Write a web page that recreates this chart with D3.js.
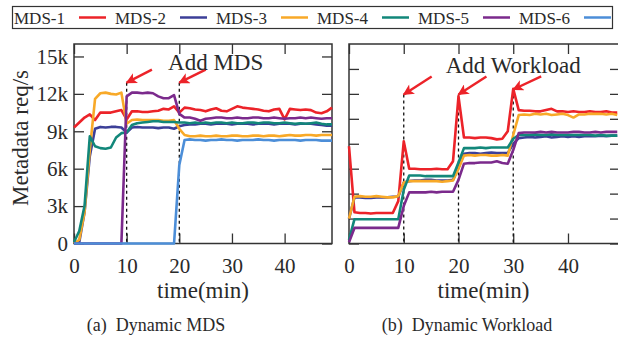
<!DOCTYPE html>
<html>
<head>
<meta charset="utf-8">
<script src="https://cdn.jsdelivr.net/npm/d3@7/dist/d3.min.js"></script>
<style>
  body { margin: 0; background: #fff; }
  text { font-family: "Liberation Serif", "Times New Roman", serif; fill: #2a2a2a; }
</style>
</head>
<body>
<div id="chart"></div>
<script>
// Width and height
var chart_width  = 618;
var chart_height = 341;

// one sample per minute, values in k req/s
var minutes = d3.range(0, 50);
var names   = ["MDS-1", "MDS-2", "MDS-3", "MDS-4", "MDS-5", "MDS-6"];
var colors  = ["#ec2329", "#3c3f98", "#f8a928", "#12877a", "#7b2a8c", "#4c8ed8"];

// (a) Dynamic MDS
var addMds1 = [9.3,9.7,10.1,10.35,9.9,10.5,10.5,10.5,10.6,10.7,
               9.95,10.6,10.6,10.55,10.55,10.6,10.65,10.8,10.75,11.0,
               10.5,10.9,10.85,10.75,10.7,10.6,10.75,10.85,10.65,10.6,
               10.8,11.0,10.9,10.85,10.8,10.75,10.65,10.6,10.75,10.8,
               9.95,10.8,10.75,10.7,10.75,10.7,10.5,10.45,10.6,10.9];
var addMds2 = [0,0.1,2.5,7.0,9.2,9.35,9.3,9.35,9.35,9.3,
               8.9,9.3,9.35,9.3,9.3,9.3,9.25,9.3,9.3,9.2,
               9.4,9.5,9.55,9.55,9.6,9.6,9.55,9.6,9.6,9.6,
               9.55,9.6,9.6,9.6,9.55,9.6,9.6,9.6,9.55,9.6,
               9.6,9.6,9.55,9.6,9.6,9.6,9.55,9.5,9.45,9.45];
var addMds3 = [0,0.3,2.5,7.5,11.6,12.05,12.1,12.0,11.95,12.1,
               9.6,9.9,9.95,9.9,9.9,9.9,9.9,9.85,9.85,9.9,
               9.2,8.7,8.6,8.6,8.65,8.6,8.6,8.65,8.6,8.6,
               8.65,8.65,8.6,8.6,8.65,8.65,8.6,8.65,8.65,8.6,
               8.65,8.7,8.65,8.65,8.7,8.7,8.65,8.7,8.7,8.7];
var addMds4 = [0.1,1.0,3.0,8.6,7.8,7.65,7.6,7.7,8.5,8.85,
               8.9,9.5,9.65,9.7,9.75,9.8,9.8,9.75,9.75,9.75,
               9.7,9.7,9.65,9.7,9.65,9.7,9.65,9.7,9.7,9.65,
               9.7,9.65,9.65,9.7,9.7,9.65,9.7,9.7,9.65,9.65,
               9.7,9.65,9.6,9.65,9.6,9.65,9.7,9.6,9.55,9.55];
var addMds5 = [0,0,0,0,0,0,0,0,0,0,
               11.8,12.1,12.1,12.05,12.1,12.05,11.8,11.65,11.65,11.9,
               10.4,10.1,10.1,10.0,9.85,10.0,10.05,10.1,10.1,10.05,
               10.05,10.1,10.05,10.05,10.1,10.1,10.05,10.05,10.1,10.05,
               10.0,10.05,10.05,10.1,10.05,10.1,10.05,10.0,10.05,10.05];
var addMds6 = [0,0,0,0,0,0,0,0,0,0,
               0,0,0,0,0,0,0,0,0,0,
               6.3,8.3,8.35,8.3,8.3,8.25,8.3,8.3,8.35,8.3,
               8.3,8.25,8.3,8.3,8.3,8.35,8.3,8.3,8.25,8.3,
               8.3,8.3,8.3,8.25,8.3,8.3,8.3,8.25,8.25,8.25];

// (b) Dynamic Workload
var loadMds1 = [7.8,2.5,2.45,2.45,2.4,2.45,2.45,2.45,2.45,3.4,
                8.2,6.0,6.0,5.95,5.95,5.95,6.0,5.95,5.95,6.6,
                11.8,8.5,8.5,8.45,8.5,8.5,8.45,8.35,8.4,9.0,
                12.4,10.7,10.65,10.65,10.6,10.6,10.7,10.8,10.6,10.6,
                10.55,10.6,10.55,10.55,10.6,10.55,10.55,10.6,10.5,10.5];
var loadMds2 = [2.0,3.7,3.7,3.65,3.65,3.7,3.7,3.7,3.75,3.75,
                4.9,5.0,5.05,5.05,5.1,5.1,5.05,5.05,5.05,5.1,
                6.1,7.2,7.25,7.25,7.2,7.25,7.3,7.25,7.25,7.25,
                8.0,8.45,8.5,8.55,8.5,8.55,8.6,8.5,8.55,8.6,
                8.55,8.6,8.55,8.6,8.6,8.6,8.65,8.6,8.65,8.65];
var loadMds3 = [2.0,3.75,3.8,3.75,3.75,3.8,3.75,3.7,3.7,3.8,
                4.9,5.0,5.0,5.0,5.0,5.0,5.0,4.95,5.0,5.05,
                6.0,7.05,7.1,7.05,7.1,7.1,7.05,7.05,7.1,7.05,
                8.7,10.3,10.35,10.3,10.4,10.35,10.4,10.3,10.35,10.4,
                10.3,10.1,10.35,10.35,10.4,10.4,10.4,10.35,10.4,10.3];
var loadMds4 = [0.3,1.95,1.95,1.95,1.95,1.95,1.95,1.95,1.95,1.95,
                4.3,5.45,5.45,5.45,5.4,5.4,5.4,5.4,5.4,5.4,
                6.5,7.65,7.65,7.65,7.7,7.65,7.7,7.7,7.7,7.7,
                8.4,8.7,8.7,8.7,8.75,8.7,8.7,8.75,8.7,8.7,
                8.7,8.7,8.7,8.7,8.7,8.65,8.7,8.65,8.65,8.65];
var loadMds5 = [0.1,1.25,1.25,1.25,1.25,1.25,1.25,1.25,1.25,1.25,
                3.0,4.1,4.1,4.1,4.1,4.15,4.1,4.15,4.15,4.15,
                5.1,6.4,6.45,6.45,6.5,6.5,6.5,6.6,6.45,6.4,
                7.5,8.85,8.9,8.9,8.9,8.95,8.9,8.95,8.9,8.9,
                8.9,8.95,8.95,8.9,8.9,8.95,8.9,8.95,8.95,8.95];

// ticks
var xTicks      = [0, 10, 20, 30, 40];
var yTicksA     = [0, 3, 6, 9, 12, 15];
var yTicksB     = [0, 2, 4, 6, 8, 10, 12, 14];

// annotations: dashed marker lines [minute, top value], arrows [tailX, tailY, tipX, tipY]
var markersA = [[10, 12.9], [20, 12.9]];
var arrowsA  = [[14.8, 13.95, 10, 12.9], [25, 13.95, 20, 12.9]];
var markersB = [[10, 11.95], [20, 11.95], [30, 12.35]];
var arrowsB  = [[15.1, 13.4, 10, 11.95], [25.1, 13.4, 20, 11.95], [35.1, 13.4, 30, 12.35]];

var svg = d3.select("#chart")
    .append("svg")
    .attr("width", chart_width)
    .attr("height", chart_height);

svg.append("defs").append("marker")
    .attr("id", "head")
    .attr("viewBox", "0 0 10 10")
    .attr("refX", 9).attr("refY", 5)
    .attr("markerWidth", 5).attr("markerHeight", 4.6)
    .attr("markerUnits", "strokeWidth")
    .attr("orient", "auto")
    .append("path")
    .attr("d", "M0,0 L10,5 L0,10 L2.5,5 z")
    .attr("fill", "#ec2329");

var top_y = 44, bottom_y = 243.5;

function drawPanel(opt) {
    var x = d3.scaleLinear().domain(opt.xDomain).range([opt.left, opt.right]);
    var y = d3.scaleLinear().domain([0, 16]).range([bottom_y, top_y]);
    var g = svg.append("g");

    // ticks, inward on all four sides
    g.append("g").attr("transform", "translate(0," + bottom_y + ")")
        .call(d3.axisBottom(x).tickValues(xTicks).tickSize(-10).tickPadding(15));
    g.append("g").attr("transform", "translate(0," + top_y + ")")
        .call(d3.axisTop(x).tickValues(xTicks).tickSize(-10).tickFormat(""));
    g.append("g").attr("transform", "translate(" + opt.left + ",0)")
        .call(d3.axisLeft(y).tickValues(opt.yTicks).tickSize(-10).tickPadding(6)
            .tickFormat(opt.yLabels ? function(d){ return d === 0 ? "0" : d + "k"; } : ""));
    g.append("g").attr("transform", "translate(" + opt.right + ",0)")
        .call(d3.axisRight(y).tickValues(opt.yTicks).tickSize(-10).tickFormat(""));

    g.selectAll(".domain").remove();
    g.selectAll(".tick line").attr("stroke", "#333").attr("stroke-width", 1.3);
    g.selectAll(".tick text").attr("font-size", 21);

    // frame
    g.append("rect")
        .attr("x", opt.left).attr("y", top_y)
        .attr("width", opt.right - opt.left).attr("height", bottom_y - top_y)
        .attr("fill", "none").attr("stroke", "#333").attr("stroke-width", 1.5);

    // dashed markers
    g.selectAll(".marker").data(opt.markers).enter().append("line")
        .attr("x1", function(d){ return x(d[0]); }).attr("x2", function(d){ return x(d[0]); })
        .attr("y1", function(d){ return y(d[1]); }).attr("y2", y(0))
        .attr("stroke", "#111").attr("stroke-width", 1.3).attr("stroke-dasharray", "3,3");

    // series
    var line = d3.line()
        .x(function(d, i){ return x(minutes[i]); })
        .y(function(d){ return y(d); });
    g.selectAll(".series").data(opt.series).enter().append("path")
        .attr("d", line)
        .attr("fill", "none")
        .attr("stroke", function(d, i){ return colors[i]; })
        .attr("stroke-width", 2.6)
        .attr("stroke-linejoin", "round");

    // arrows
    g.selectAll(".arrow").data(opt.arrows).enter().append("line")
        .attr("x1", function(d){ return x(d[0]); }).attr("y1", function(d){ return y(d[1]); })
        .attr("x2", function(d){ return x(d[2]); }).attr("y2", function(d){ return y(d[3]); })
        .attr("stroke", "#ec2329").attr("stroke-width", 2.4)
        .attr("marker-end", "url(#head)");

    g.append("text")
        .attr("x", x(opt.note[1])).attr("y", y(opt.note[2]))
        .attr("text-anchor", "middle").attr("font-size", 23)
        .text(opt.note[0]);

    g.append("text")
        .attr("x", (opt.left + Math.min(opt.right, chart_width)) / 2).attr("y", 298)
        .attr("text-anchor", "middle").attr("font-size", 23)
        .text("time(min)");

    g.append("text")
        .attr("x", opt.captionX).attr("y", 331)
        .attr("text-anchor", "middle").attr("font-size", 18)
        .style("white-space", "pre")
        .text(opt.caption);
}

drawPanel({
    left: 74, right: 332, xDomain: [0, 49],
    yTicks: yTicksA, yLabels: true,
    series: [addMds1, addMds2, addMds3, addMds4, addMds5, addMds6],
    markers: markersA, arrows: arrowsA,
    note: ["Add MDS", 26.9, 13.95],
    caption: "(a)  Dynamic MDS", captionX: 156
});

drawPanel({
    left: 349, right: 620, xDomain: [0, 49.5],
    yTicks: yTicksB, yLabels: false,
    series: [loadMds1, loadMds2, loadMds3, loadMds4, loadMds5],
    markers: markersB, arrows: arrowsB,
    note: ["Add Workload", 30, 13.7],
    caption: "(b)  Dynamic Workload", captionX: 467
});

// y axis title
svg.append("text")
    .attr("transform", "translate(28,138) rotate(-90)")
    .attr("text-anchor", "middle").attr("font-size", 23)
    .text("Metadata req/s");

// legend: label then sample line
var legend = svg.append("g");
legend.append("rect")
    .attr("x", 12.5).attr("y", 6.5).attr("width", 600).attr("height", 22)
    .attr("fill", "none").attr("stroke", "#333").attr("stroke-width", 1.2);
var item = legend.selectAll(".item").data(names).enter().append("g")
    .attr("transform", function(d, i){ return "translate(" + (14 + i * 101) + ",0)"; });
item.append("text")
    .attr("x", 0).attr("y", 23.5).attr("font-size", 17)
    .text(function(d){ return d; });
item.append("line")
    .attr("x1", 65).attr("x2", 92).attr("y1", 17.5).attr("y2", 17.5)
    .attr("stroke", function(d, i){ return colors[i]; })
    .attr("stroke-width", 2.5);
</script>
</body>
</html>
